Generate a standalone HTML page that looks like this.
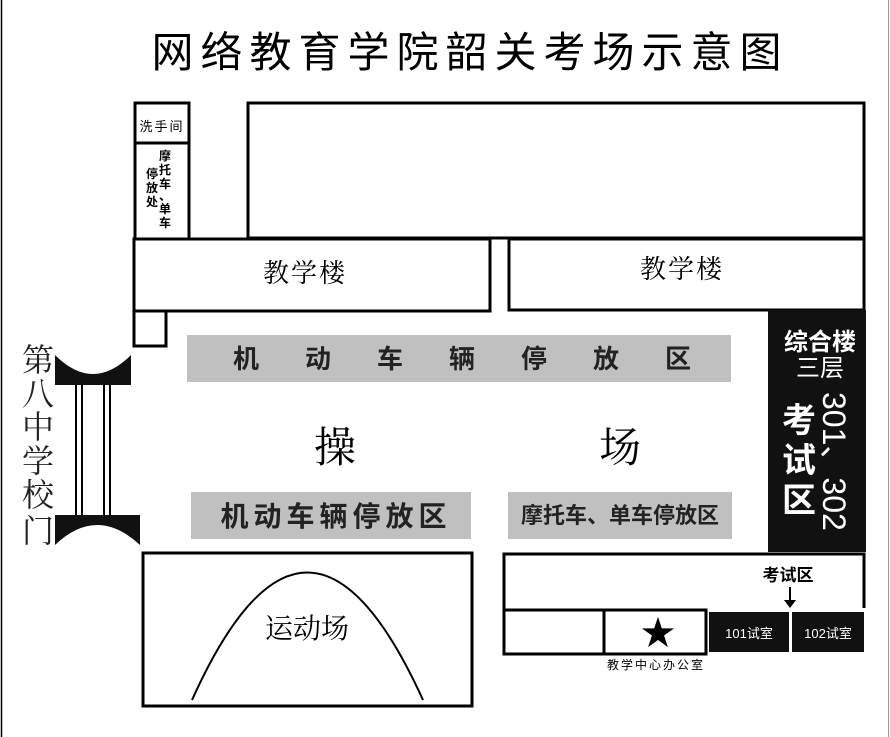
<!DOCTYPE html>
<html><head><meta charset="utf-8"><style>
body{margin:0;background:#fff}
svg{display:block}
text{font-family:"Liberation Sans","Noto Sans CJK SC",sans-serif}
.s{font-family:"Liberation Serif","Noto Serif CJK SC",serif}
</style></head><body>
<svg width="890" height="737" viewBox="0 0 890 737" xmlns="http://www.w3.org/2000/svg">
<rect width="890" height="737" fill="#fff"/>
<line x1="1.5" y1="0" x2="1.5" y2="737" stroke="#000" stroke-width="1.5"/>
<line x1="888.5" y1="0" x2="888.5" y2="737" stroke="#999" stroke-width="1"/>
<text x="470" y="67" font-size="42" text-anchor="middle" letter-spacing="7">网络教育学院韶关考场示意图</text>
<g fill="none" stroke="#000" stroke-width="3">
<rect x="135" y="103" width="54" height="40"/>
<rect x="135" y="143" width="54" height="96"/>
<rect x="248" y="103" width="616" height="135"/>
<rect x="134" y="239" width="356" height="72"/>
<rect x="509" y="239" width="355" height="71"/>
<rect x="134" y="311" width="32" height="35"/>
<rect x="143" y="553" width="329" height="153"/>
<path d="M504 654 V554 H864 V608"/>
<rect x="504" y="610" width="202" height="44"/>
<line x1="604" y1="610" x2="604" y2="654"/>
<path d="M192 700 Q307 445 423 700" stroke-width="2"/>
</g>
<text x="162" y="131" font-size="13" text-anchor="middle" letter-spacing="2">洗手间</text>
<text font-size="12" font-weight="bold" text-anchor="middle"><tspan x="165" y="160">摩</tspan><tspan x="165" y="174">托</tspan><tspan x="165" y="188">车</tspan><tspan x="165" y="200">、</tspan><tspan x="165" y="213">单</tspan><tspan x="165" y="227">车</tspan><tspan x="152" y="178">停</tspan><tspan x="152" y="192">放</tspan><tspan x="152" y="206">处</tspan></text>
<text class="s" x="305" y="282" font-size="26" text-anchor="middle" letter-spacing="2">教学楼</text>
<text class="s" x="682" y="278" font-size="26" text-anchor="middle" letter-spacing="2">教学楼</text>
<rect x="187" y="335" width="544" height="47" fill="#c0c0c0"/>
<text x="485" y="368" font-size="26" font-weight="bold" text-anchor="middle" letter-spacing="46" fill="#222">机动车辆停放区</text>
<text class="s" x="335" y="462" font-size="42" text-anchor="middle">操</text>
<text class="s" x="620" y="462" font-size="42" text-anchor="middle">场</text>
<rect x="191" y="492" width="280" height="47" fill="#c0c0c0"/>
<text x="336" y="526" font-size="28" font-weight="bold" text-anchor="middle" letter-spacing="5" fill="#222">机动车辆停放区</text>
<rect x="508" y="492" width="224" height="47" fill="#c0c0c0"/>
<text x="620" y="523" font-size="22" font-weight="bold" text-anchor="middle" fill="#222">摩托车、单车停放区</text>
<rect x="768" y="310" width="98" height="242" fill="#111"/>
<text x="820" y="350" font-size="24" text-anchor="middle" fill="#fff" font-weight="bold">综合楼</text>
<text x="820" y="376" font-size="24" text-anchor="middle" fill="#fff">三层</text>
<text font-size="34" text-anchor="middle" fill="#fff" font-weight="bold"><tspan x="799" y="432">考</tspan><tspan x="799" y="472">试</tspan><tspan x="799" y="512">区</tspan></text>
<text x="0" y="0" font-size="32" fill="#fff" transform="translate(823 392) rotate(90)">301、302</text>
<text x="788" y="581" font-size="17" font-weight="bold" text-anchor="middle">考试区</text>
<line x1="790" y1="587" x2="790" y2="602" stroke="#000" stroke-width="2"/>
<path d="M784 600 L796 600 L790 608 Z" fill="#000"/>
<rect x="709" y="612" width="80" height="40" fill="#111"/>
<rect x="792" y="612" width="72" height="40" fill="#111"/>
<text x="749" y="638" font-size="13" fill="#fff" text-anchor="middle">101试室</text>
<text x="828" y="638" font-size="13" fill="#fff" text-anchor="middle">102试室</text>
<text x="658" y="645" font-size="34" text-anchor="middle">★</text>
<text x="656" y="669" font-size="12" text-anchor="middle" letter-spacing="2">教学中心办公室</text>
<text class="s" x="307" y="638" font-size="28" text-anchor="middle">运动场</text>
<path d="M55 355 Q93 393 131 355 V385 H55 Z" fill="#111"/>
<path d="M55 515 H140 V545 Q97 505 55 545 Z" fill="#111"/>
<g stroke="#000" stroke-width="2"><line x1="76" y1="385" x2="76" y2="515"/><line x1="82" y1="385" x2="82" y2="515"/><line x1="104" y1="385" x2="104" y2="515"/><line x1="110" y1="385" x2="110" y2="515"/></g>
<text class="s" font-size="32" text-anchor="middle" fill="#222"><tspan x="38" y="371">第</tspan><tspan x="38" y="405">八</tspan><tspan x="38" y="438">中</tspan><tspan x="38" y="472">学</tspan><tspan x="38" y="506">校</tspan><tspan x="38" y="542">门</tspan></text>
</svg>
</body></html>
